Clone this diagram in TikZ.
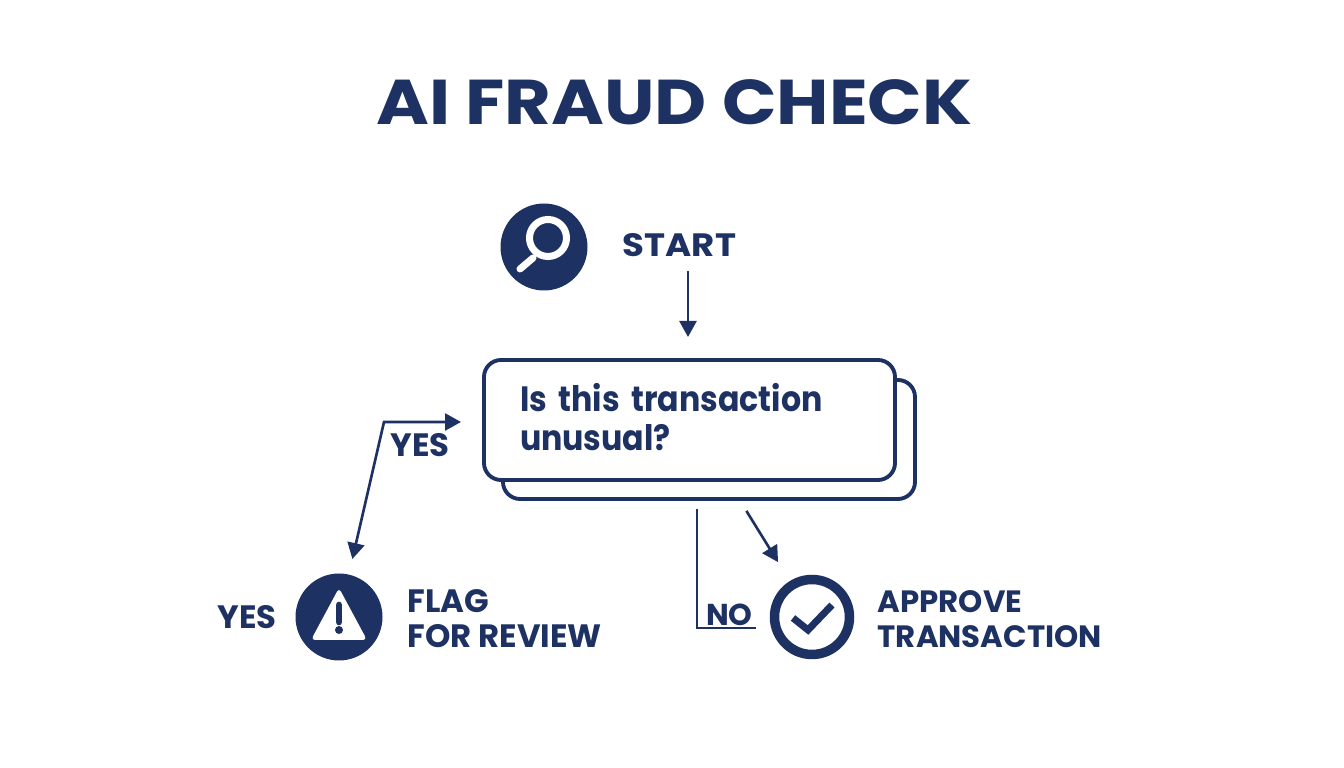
\documentclass[tikz,border=0pt]{standalone}
\usepackage{fontspec}
\setmainfont{Poppins}
\newfontfamily\widefont[FakeStretch=1.133]{Poppins}
\newfontfamily\startfont[FakeStretch=1.1]{Poppins}
\newfontfamily\askfont[FakeStretch=0.9]{Poppins}
\usetikzlibrary{arrows.meta}
\definecolor{navy}{HTML}{1E3163}
\tikzset{
  arrowtip/.tip={Triangle[length=.16cm,width=.17cm]},
  flow/.style={draw=navy,line width=0.75pt,-arrowtip},
  plainflow/.style={draw=navy,line width=0.75pt},
  icondisc/.style={circle,fill=navy,inner sep=0pt,outer sep=0pt,minimum size=.87cm},
  iconring/.style={circle,draw=navy,line width=2.7pt,inner sep=0pt,outer sep=0pt,minimum size=.75cm},
  card/.style={draw=navy,fill=white,line width=1.1pt,rounded corners=.17cm,inner sep=0pt,outer sep=0pt},
  lbl/.style={text=navy,inner sep=0pt,font=\fontsize{9.2pt}{10pt}\selectfont\bfseries},
  block/.style={lbl,align=left,anchor=west},
}
\begin{document}
\begin{tikzpicture}
    \useasboundingbox (0,0) rectangle (13.44,7.68);
    \node[text=navy,inner sep=0pt,font=\widefont\fontsize{18pt}{20pt}\selectfont\bfseries] (title) at (6.745,6.66) {AI FRAUD CHECK};
    % start
    \node[icondisc] (magicon) at (5.44,5.21) {};
    \draw[white,line width=2pt] (5.48,5.30) circle (.185);
    \draw[white,line width=2pt,line cap=round] (5.33,5.10) -- (5.20,4.99);
    \node[lbl,font=\startfont\fontsize{9.2pt}{10pt}\selectfont\bfseries] (startlabel) at (6.795,5.23) {START};
    % question
    \node[card,minimum width=4.12cm,minimum height=1.19cm] (askback) at (7.09,3.285) {};
    \node[card,minimum width=4.11cm,minimum height=1.20cm,text width=3.39cm,align=left,text=navy,
      font=\askfont\fontsize{10pt}{11.1pt}\selectfont\bfseries] (ask) at (6.895,3.48) {\mbox{Is this transaction}\\unusual?\par\vspace{1.4pt}};
    % flag
    \node[icondisc] (flagicon) at (3.39,1.51) {};
    \fill[white,rounded corners=.04cm] (3.39,1.80) -- (3.67,1.28) -- (3.11,1.28) -- cycle;
    \draw[navy,line width=1.9pt,line cap=round] (3.39,1.63) -- (3.39,1.46);
    \fill[navy] (3.39,1.38) circle (.04);
    \node[lbl] (yesleft) at (2.47,1.51) {YES};
    \node[block] (flaglabel) at (4.07,1.49) {FLAG\\FOR REVIEW};
    % approve
    \node[iconring] (checkicon) at (8.12,1.51) {};
    \draw[navy,line width=2pt] (7.93,1.50) -- (8.08,1.38) -- (8.32,1.63);
    \node[lbl,font=\fontsize{8.6pt}{10pt}\selectfont\bfseries] (nolabel) at (7.295,1.53) {NO};
    \node[block,font=\fontsize{8.77pt}{10pt}\selectfont\bfseries] (approvelabel) at (8.77,1.49) {APPROVE\\TRANSACTION};
    \node[lbl] (yesup) at (4.20,3.23) {YES};
    % connectors
    \coordinate (askin) at (6.88,4.08);
    \coordinate (yesbend) at (3.84,3.46);
    \coordinate (nobend) at (6.97,1.40);
    \coordinate (approveout) at (7.39,2.69);
    \draw[flow,shorten <=.14cm,shorten >=.23cm] (startlabel.south -| askin) -- (askin);
    \draw[flow,arrowtip-arrowtip,shorten <=.23cm,shorten >=.16cm]
      (ask.west |- yesbend) -- (yesbend) -- (flagicon);
    \draw[plainflow,shorten <=.10cm,shorten >=.19cm] (askback.south -| nobend) -- (nobend) -- (nobend -| checkicon.west);
    \draw[flow,shorten <=.14cm,shorten >=.27cm] (approveout) -- (checkicon);
\end{tikzpicture}
\end{document}
